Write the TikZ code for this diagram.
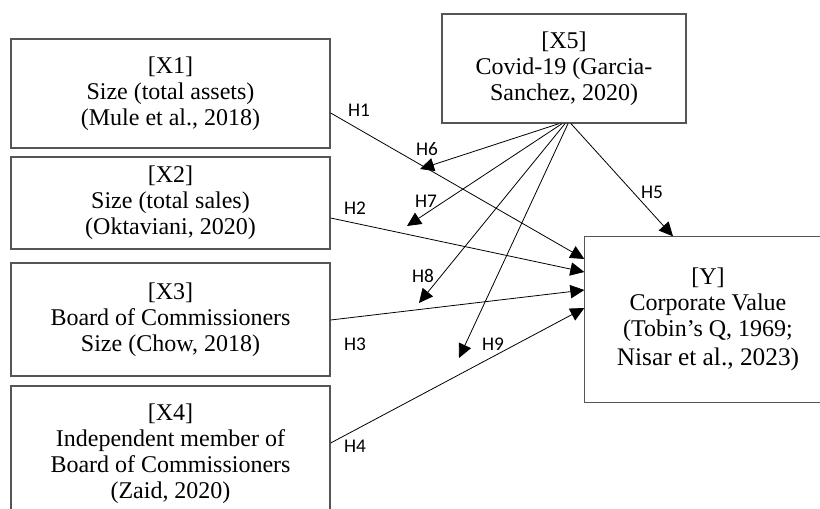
\documentclass[tikz,border=0pt]{standalone}
\usepackage{fontspec}
\setmainfont{Liberation Serif}
\newfontfamily\labelfont{Carlito}
\usetikzlibrary{arrows.meta,calc}
\definecolor{boxgray}{RGB}{85,85,85}
\begin{document}
\begin{tikzpicture}[x=0.75pt,y=-0.75pt,
  boxline/.style={draw=boxgray,line width=1pt},
  box/.style={boxline,align=center,inner sep=0pt,
    font=\fontsize{18}{19.5}\selectfont,text=black},
  arr/.style={draw=black,line width=0.6pt,-{Triangle[length=10.5pt,width=10pt]}},
  hlab/.style={font=\labelfont\fontsize{14.5}{16}\selectfont,inner sep=0pt}]
\useasboundingbox (0,0) rectangle (820,509);
\clip (0,0) rectangle (820,509);

% boxes
\node[box,minimum width=239.25pt,minimum height=81.75pt] (x1) at (170.5,93.5)
  {[X1]\\Size (total assets)\\(Mule et al., 2018)};
\node[box,minimum width=239.25pt,minimum height=69pt] (x2) at (170.5,203)
  {[X2]\\Size (total sales)\\(Oktaviani, 2020)};
\node[box,minimum width=239.25pt,minimum height=84.75pt] (x3) at (170.5,319.5)
  {[X3]\\Board of Commissioners\\Size (Chow, 2018)};
\node[box,minimum width=239.25pt,minimum height=102pt] (x4) at (170.5,454)
  {[X4]\\Independent member of\\Board of Commissioners\\(Zaid, 2020)};
\node[box,minimum width=183pt,minimum height=81.75pt] (x5) at (564,68.5)
  {[X5]\\Covid-19 (Garcia-\\Sanchez, 2020)};
\node[box,draw=none,minimum width=184.5pt,minimum height=123.75pt] (yv) at (708,319.5)
  {[Y]\\Corporate Value\\(Tobin’s Q, 1969;\\[2pt]{\fontsize{19}{20}\selectfont Nisar et al., 2023)}};
% Y box runs past the right edge of the picture
\coordinate (yne) at (825,0 |- yv.north);
\coordinate (yse) at (825,0 |- yv.south);
\draw[boxline] (yne) -- (yv.north west) -- (yv.south west) -- (yse);

% connectors X -> Y
\draw[arr] (x1.east |- 0,113) -- (yv.west |- 0,259);
\draw[arr] (x2.east |- 0,218) -- (yv.west |- 0,272);
\draw[arr] (x3.east |- 0,320) -- (yv.west |- 0,290);
\draw[arr] (x4.east |- 0,443) -- (yv.west |- 0,308);
\draw[arr] (571,0 |- x5.south) -- (673,0 |- yv.north);

% moderating arrows
\coordinate (m6) at (420,169);
\coordinate (m7) at (407,226);
\coordinate (m8) at (419,303);
\coordinate (m9) at (459,358);
\draw[arr] (559,0 |- x5.south) -- (m6);
\draw[arr] (562,0 |- x5.south) -- (m7);
\draw[arr] (565,0 |- x5.south) -- (m8);
\draw[arr] (568,0 |- x5.south) -- (m9);

% labels
\node[hlab] (l1) at (359,110) {H1};
\node[hlab] (l2) at (355,208) {H2};
\node[hlab] (l3) at (355,344) {H3};
\node[hlab] (l4) at (355,446) {H4};
\node[hlab] (l5) at (652,192) {H5};
\node[hlab] (l6) at (427,149) {H6};
\node[hlab] (l7) at (426,201) {H7};
\node[hlab] (l8) at (423,276) {H8};
\node[hlab] (l9) at (493,344) {H9};
\end{tikzpicture}
\end{document}
